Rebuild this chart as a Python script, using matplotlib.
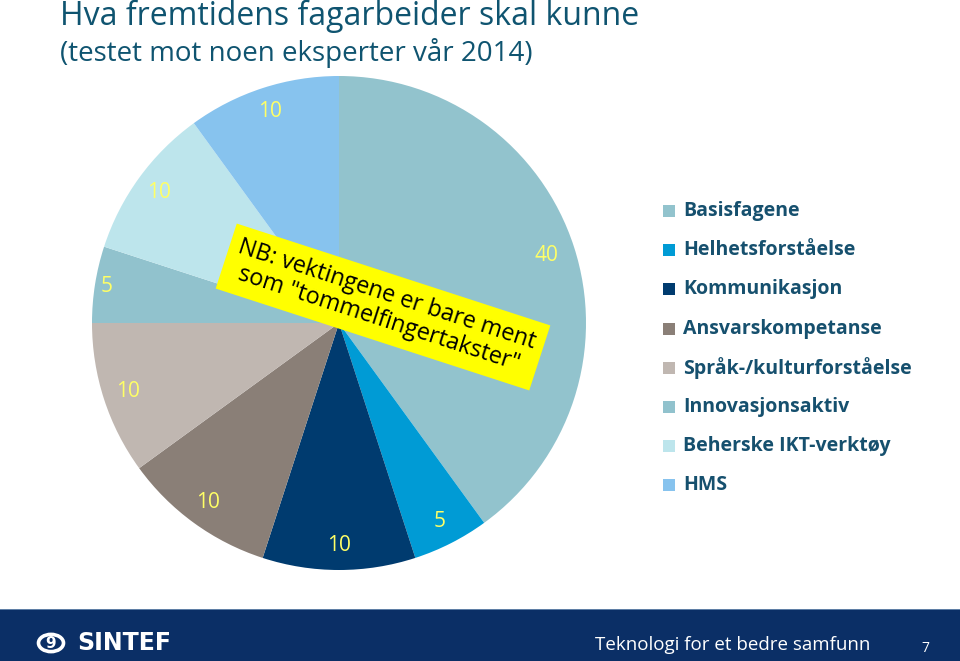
import matplotlib.pyplot as plt
from matplotlib.patches import Rectangle, Circle

# Data
labels = ['Basisfagene', 'Helhetsforståelse', 'Kommunikasjon', 'Ansvarskompetanse',
          'Språk-/kulturforståelse', 'Innovasjonsaktiv', 'Beherske IKT-verktøy', 'HMS']
values = [40, 5, 10, 10, 10, 5, 10, 10]
colors = ['#92C3CD', '#009BD5', '#003B6F', '#8A7F77', '#C0B7B1', '#91C2CD', '#BDE5EC', '#87C3EE']

W, H = 960, 661
fig = plt.figure(figsize=(9.6, 6.61), dpi=100)
fig.patch.set_facecolor('white')
plt.rcParams['font.family'] = ['Open Sans', 'DejaVu Sans']

# title
fig.text(60 / W, 1 - 16 / H, 'Hva fremtidens fagarbeider skal kunne', fontsize=23,
         color='#0F5470', va='center', ha='left')
fig.text(60 / W, 1 - 53 / H, '(testet mot noen eksperter vår 2014)', fontsize=20,
         color='#0F5470', va='center', ha='left')

# pie
cx, cy, r = 339, 323, 247
ax = fig.add_axes([(cx - r) / W, (H - cy - r) / H, 2 * r / W, 2 * r / H])
wedges, texts = ax.pie(values, colors=colors, startangle=90, counterclock=False,
                       labels=[str(v) for v in values], labeldistance=0.9,
                       textprops=dict(color='#FFFF66', fontsize=15, ha='center', va='center'),
                       wedgeprops=dict(linewidth=0))
# the small slice on the left has its label pushed further out
x, y = texts[5].get_position()
texts[5].set_position((x * 1.06, y * 1.06))
x, y = texts[0].get_position()
texts[0].set_position((x * 0.98, y * 0.98))
ax.set_xlim(-1, 1)
ax.set_ylim(-1, 1)
ax.set_aspect('auto')
ax.axis('off')

# note
fig.text(383 / W, 1 - 307 / H, 'NB: vektingene er bare ment\nsom "tommelfingertakster"',
         rotation=-18, fontsize=16.8, color='black', ha='center', va='center',
         rotation_mode='anchor', linespacing=1.12,
         bbox=dict(facecolor='#FFFF00', edgecolor='none', pad=6.5))

# legend
for i, (lab, col) in enumerate(zip(labels, colors)):
    y = 211 + i * 39.2
    fig.patches.append(Rectangle((663 / W, 1 - (y + 6) / H), 12 / W, 12 / H,
                                 facecolor=col, edgecolor='none', transform=fig.transFigure))
    fig.text(683 / W, 1 - y / H, lab, fontsize=14, fontweight='bold', color='#16506E',
             va='center', ha='left')

# footer
fig.patches.append(Rectangle((0, 0), 1, 51 / H, facecolor='#0B2F66', edgecolor='none',
                             transform=fig.transFigure))
fig.patches.append(Rectangle((0, 51 / H), 1, 1.5 / H, facecolor='#5F7FA6', edgecolor='none',
                             transform=fig.transFigure))
fig.patches.append(Circle((51 / W, 1 - 643 / H), 12.5 / W, facecolor='none', edgecolor='white',
                          linewidth=2.6, transform=fig.transFigure))
fig.text(51 / W, 1 - 643 / H, '9', fontsize=11, fontweight='bold', color='white',
         ha='center', va='center', family='DejaVu Sans')
fig.text(77 / W, 1 - 643 / H, 'SINTEF', fontsize=17, fontweight='bold', color='white',
         ha='left', va='center', family='DejaVu Sans')
fig.text(870 / W, 1 - 645 / H, 'Teknologi for et bedre samfunn', fontsize=13.5, color='white',
         ha='right', va='center')
fig.text(925 / W, 1 - 648 / H, '7', fontsize=10, color='white', ha='center', va='center')

fig.savefig('out.png', dpi=100, facecolor='white')
